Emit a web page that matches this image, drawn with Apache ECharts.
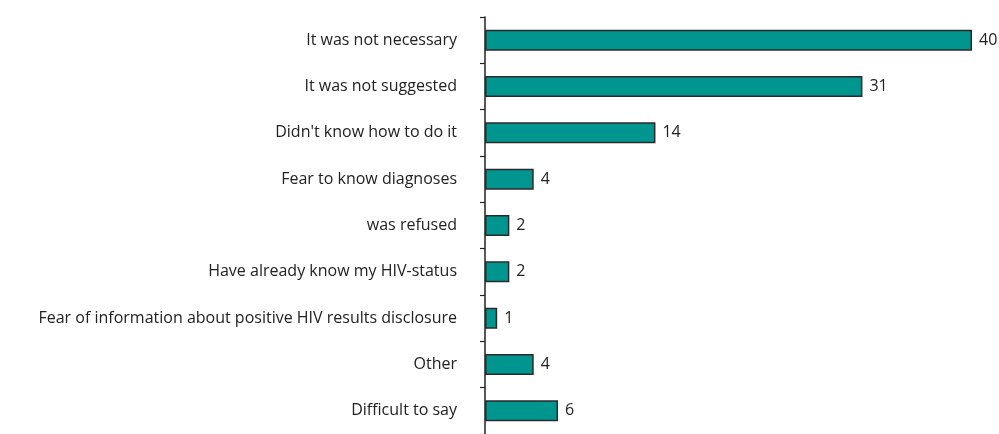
<!DOCTYPE html>
<html>
<head>
<meta charset="utf-8">
<script src="https://cdn.jsdelivr.net/npm/echarts@6/dist/echarts.min.js"></script>
<style>
  html, body { margin: 0; padding: 0; background: #ffffff; }
  #chart { width: 999px; height: 434px; }
</style>
</head>
<body>
<div id="chart"></div>
<script>
// Reasons for not being tested, listed top to bottom
const reasons = [
  "It was not necessary",
  "It was not suggested",
  "Didn't know how to do it",
  "Fear to know diagnoses",
  "was refused",
  "Have already know my HIV-status",
  "Fear of information about positive HIV results disclosure",
  "Other",
  "Difficult to say"
];
const counts = [40, 31, 14, 4, 2, 2, 1, 4, 6];

const chart = echarts.init(document.getElementById('chart'), null, { renderer: 'canvas' });

chart.setOption({
  animation: false,
  backgroundColor: '#ffffff',
  grid: { left: 485, right: 27, top: 17, height: 423 },
  xAxis: {
    type: 'value',
    min: 0,
    max: 40,
    show: false
  },
  yAxis: {
    type: 'category',
    inverse: true,
    data: reasons,
    axisLine: { show: true, lineStyle: { color: '#222222', width: 1.5 } },
    axisTick: { show: true, length: 5, lineStyle: { color: '#222222', width: 1.2 } },
    axisLabel: {
      color: '#222222',
      fontFamily: 'Open Sans',
      fontSize: 16,
      margin: 28
    },
    splitLine: { show: false }
  },
  series: [{
    type: 'bar',
    data: counts,
    barWidth: 21,
    itemStyle: {
      color: '#009690',
      borderColor: '#2a2a2a',
      borderWidth: 1.5
    },
    label: {
      show: true,
      position: 'right',
      distance: 7,
      color: '#222222',
      fontFamily: 'Open Sans',
      fontSize: 16
    }
  }]
});
</script>
</body>
</html>
